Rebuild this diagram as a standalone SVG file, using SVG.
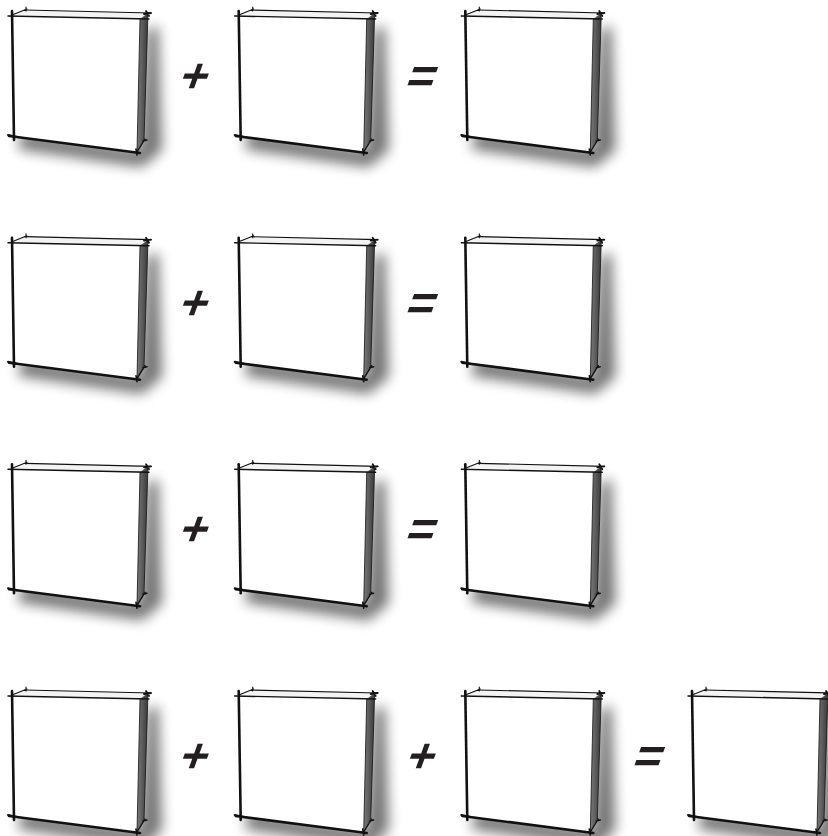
<svg xmlns="http://www.w3.org/2000/svg" xmlns:xlink="http://www.w3.org/1999/xlink" width="828" height="836" viewBox="0 0 828 836">
<style>
.op{font-family:"Liberation Sans",Arial,sans-serif;font-weight:bold;font-size:48px;fill:#231f20;text-anchor:middle}
.ed{stroke:#111;fill:none;stroke-linecap:round}
</style>
<defs>
<filter id="blur" x="-30%" y="-30%" width="160%" height="160%"><feGaussianBlur stdDeviation="6.5"/></filter>
<linearGradient id="side" x1="0" y1="0" x2="1" y2="0"><stop offset="0" stop-color="#7a7a7a"/><stop offset="1" stop-color="#3a3a3a"/></linearGradient>
<g id="box">
<polygon points="22,132 140,150 147,30 158,26 162,150 142,167 18,149" fill="#000" opacity="0.55" filter="url(#blur)"/>
<polygon points="12,15 141,19 137,152 14,137" fill="#fff"/>
<polygon points="12,15 26,10 148,13 141,19" fill="#f3f3f3"/>
<polygon points="140,19 148,13 144,140 137,152" fill="url(#side)"/>
<path class="ed" d="M12,11 L14,140" stroke-width="2.6"/>
<path class="ed" d="M9,136 L140,153" stroke-width="2.6"/>
<path class="ed" d="M8,16 L149,19" stroke-width="1.4" stroke="#333"/>
<path class="ed" d="M25,10 L151,13" stroke-width="1.2" stroke="#444"/>
<path class="ed" d="M12,15 L27,9 M26,7 L26,11" stroke-width="1.1"/>
<path class="ed" d="M140,19 L137,152" stroke-width="0.8" stroke="#333"/>
<path class="ed" d="M148,13 L144,140" stroke-width="0.8" stroke="#222"/>
<path class="ed" d="M137,152 L145,139 M143,141 L147,140" stroke-width="1.4"/>
<path class="ed" d="M146,11 L149,16 M144,14 L151,13" stroke-width="1.8"/>
<path class="ed" d="M136,149 L137,155" stroke-width="1.6"/>
<path class="ed" d="M8,135 L17,137" stroke-width="2"/>
</g>
</defs>
<g id="row1">
<g id="r1b1"><use xlink:href="#box"/></g>
<g id="r1b2"><use xlink:href="#box" x="226.7"/></g>
<g id="r1b3"><use xlink:href="#box" x="453.3"/></g>
</g>
<g id="row2">
<g id="r2b1"><use xlink:href="#box" y="226.7"/></g>
<g id="r2b2"><use xlink:href="#box" x="226.7" y="226.7"/></g>
<g id="r2b3"><use xlink:href="#box" x="453.3" y="226.7"/></g>
</g>
<g id="row3">
<g id="r3b1"><use xlink:href="#box" y="453.3"/></g>
<g id="r3b2"><use xlink:href="#box" x="226.7" y="453.3"/></g>
<g id="r3b3"><use xlink:href="#box" x="453.3" y="453.3"/></g>
</g>
<g id="row4">
<g id="r4b1"><use xlink:href="#box" y="680"/></g>
<g id="r4b2"><use xlink:href="#box" x="226.7" y="680"/></g>
<g id="r4b3"><use xlink:href="#box" x="453.3" y="680"/></g>
<g id="r4b4"><use xlink:href="#box" x="680" y="680"/></g>
</g>
<g id="operators">
<text class="op" transform="translate(190,92) skewX(-20)">+</text>
<text class="op" transform="translate(417,92) skewX(-20)">=</text>
<text class="op" transform="translate(190,319) skewX(-20)">+</text>
<text class="op" transform="translate(417,319) skewX(-20)">=</text>
<text class="op" transform="translate(190,545) skewX(-20)">+</text>
<text class="op" transform="translate(417,545) skewX(-20)">=</text>
<text class="op" transform="translate(190,772) skewX(-20)">+</text>
<text class="op" transform="translate(417,772) skewX(-20)">+</text>
<text class="op" transform="translate(644,772) skewX(-20)">=</text>
</g>
</svg>
